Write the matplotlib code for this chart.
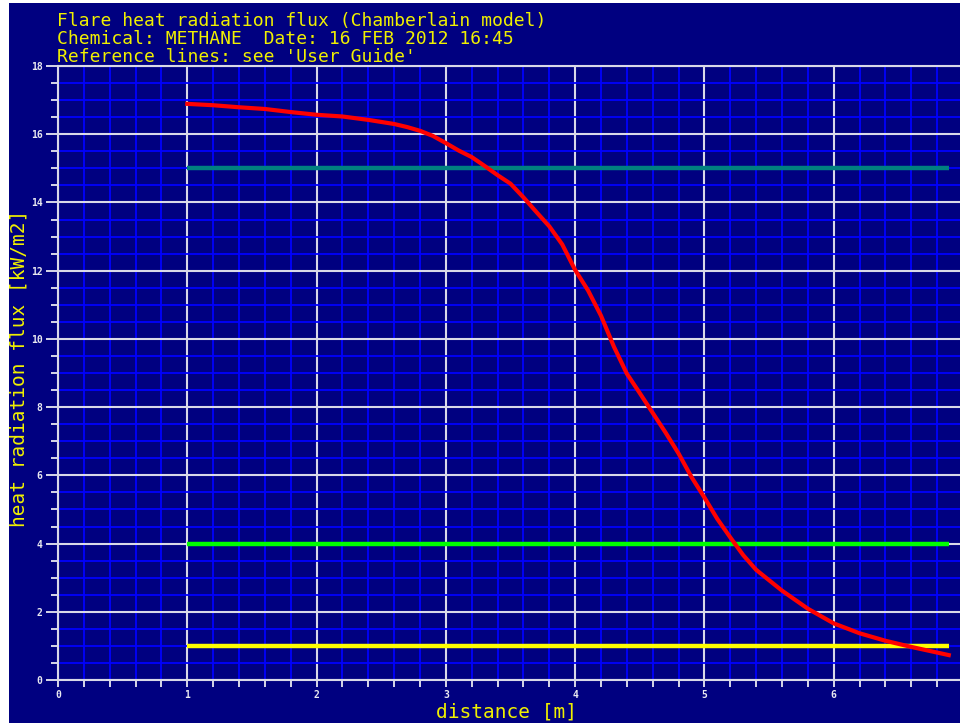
import matplotlib
matplotlib.use("Agg")
import matplotlib.pyplot as plt
from matplotlib.patches import Rectangle
from matplotlib.ticker import MultipleLocator

# Flare heat radiation flux vs distance (Chamberlain model)
distance = [1.0, 1.2, 1.4, 1.6, 1.8, 2.0, 2.2, 2.4, 2.6, 2.7, 2.8, 2.9, 3.0,
            3.1, 3.2, 3.3, 3.4, 3.5, 3.6, 3.7, 3.8, 3.9, 4.0, 4.1, 4.2, 4.3,
            4.4, 4.5, 4.6, 4.7, 4.8, 4.9, 5.0, 5.1, 5.2, 5.3, 5.4, 5.6, 5.8,
            6.0, 6.2, 6.4, 6.6, 6.89]
flux = [16.89, 16.85, 16.79, 16.74, 16.65, 16.57, 16.52, 16.42, 16.30, 16.21,
        16.10, 15.95, 15.74, 15.52, 15.33, 15.07, 14.80, 14.55, 14.15, 13.72,
        13.30, 12.77, 12.02, 11.42, 10.68, 9.77, 8.98, 8.41, 7.83, 7.25,
        6.64, 5.95, 5.35, 4.72, 4.18, 3.66, 3.23, 2.62, 2.09, 1.66, 1.37,
        1.15, 0.97, 0.73]

# Reference levels [kW/m2]
ref_levels = [15.0, 4.0, 1.0]
ref_colors = ["#008080", "#00ff00", "#ffff00"]
ref_start, ref_end = 1.0, 6.89

title_lines = ["Flare heat radiation flux (Chamberlain model)",
               "Chemical: METHANE  Date: 16 FEB 2012 16:45",
               "Reference lines: see 'User Guide'"]
x_label = "distance [m]"
y_label = "heat radiation flux [kW/m2]"

W, H = 960, 723
NAVY = "#000080"
TXT = "#f0f000"
MONO = ["DejaVu Sans Mono"]

fig = plt.figure(figsize=(W / 100, H / 100), dpi=100, facecolor="white")
fig.patches.append(Rectangle((9 / W, 0), 1, 1 - 3 / H, transform=fig.transFigure,
                             facecolor=NAVY, edgecolor="none", zorder=-10))

ax = fig.add_axes([58 / W, 1 - 680 / H, (963 - 58) / W, (680 - 66) / H])
ax.set_facecolor(NAVY)
ax.set_xlim(0, 7)
ax.set_ylim(0, 18)

ax.xaxis.set_major_locator(MultipleLocator(1))
ax.xaxis.set_minor_locator(MultipleLocator(0.2))
ax.yaxis.set_major_locator(MultipleLocator(2))
ax.yaxis.set_minor_locator(MultipleLocator(0.5))

ax.grid(which="minor", color="#0000ff", linewidth=1.3, zorder=0)
ax.grid(which="major", color="#d8d8e8", linewidth=1.5, zorder=1)
ax.set_axisbelow(True)

ax.spines["right"].set_visible(False)
for side in ["left", "bottom", "top"]:
    ax.spines[side].set_color("#d8d8e8")
    ax.spines[side].set_linewidth(1.5)

ax.tick_params(which="both", colors="#e8e8f0", labelsize=7, direction="out")
ax.tick_params(which="major", axis="y", length=9, width=1.3, pad=2)
ax.tick_params(which="minor", axis="y", length=5, width=1.3)
ax.tick_params(which="both", axis="x", length=5, width=1.3, pad=2)
ax.set_xticks(range(0, 7))
for lab in ax.get_xticklabels() + ax.get_yticklabels():
    lab.set_fontfamily(MONO)
    lab.set_fontweight("bold")

for lvl, col in zip(ref_levels, ref_colors):
    ax.plot([ref_start, ref_end], [lvl, lvl], color=col, linewidth=3.2,
            solid_capstyle="butt", zorder=3)

ax.plot(distance, flux, color="#ff0000", linewidth=3.0, zorder=4)

# Header lines
for i, line in enumerate(title_lines):
    fig.text(57 / W, 1 - (26 + 18 * i) / H, line, color=TXT, family=MONO,
             fontsize=13, ha="left", va="baseline")

fig.text(507 / W, 1 - 712 / H, x_label, color=TXT, family=MONO, fontsize=14,
         ha="center", va="center")
fig.text(19 / W, 1 - 368 / H, y_label, color=TXT, family=MONO, fontsize=14,
         ha="center", va="center", rotation=90)

fig.savefig("out.png", dpi=100, facecolor="white")
